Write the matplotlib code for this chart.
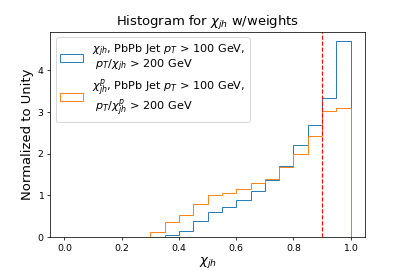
import numpy as np
from matplotlib import pyplot as plt

# bin edges and normalized bin heights
bin_edges = np.linspace(0, 1, 21)
chi_jh = [0, 0, 0, 0, 0, 0, 0, 0.04, 0.14, 0.39, 0.60, 0.72, 0.89, 1.10, 1.38, 1.70, 2.21, 2.69, 3.33, 4.69]
chi_jh_p = [0, 0, 0, 0, 0, 0.005, 0.12, 0.36, 0.54, 0.80, 1.02, 1.05, 1.15, 1.29, 1.40, 1.67, 1.98, 2.43, 3.03, 3.09]

label_1 = "$\\chi_{jh}$, PbPb Jet $p_T$ > 100 GeV,\n $p_T/\\chi_{jh}$ > 200 GeV"
label_2 = "$\\chi_{jh}^{p}$, PbPb Jet $p_T$ > 100 GeV,\n $p_T/\\chi_{jh}^{p}$ > 200 GeV"

centers = (bin_edges[:-1] + bin_edges[1:]) / 2

fig, ax = plt.subplots(figsize=(6, 4), dpi=407 / 6)
fig.subplots_adjust(left=0.123, right=0.897, top=0.882, bottom=0.125)
ax.hist(centers, bins=bin_edges, weights=chi_jh, histtype='step', label=label_1)
ax.hist(centers, bins=bin_edges, weights=chi_jh_p, histtype='step', label=label_2)
ax.axvline(0.9, color='red', linestyle='--', linewidth=1.2)

ax.set_title("Histogram for $\\chi_{jh}$ w/weights", fontsize=14)
ax.set_xlabel("$\\chi_{jh}$", fontsize=14, labelpad=2)
ax.set_ylabel("Normalized to Unity", fontsize=14)
leg = ax.legend(loc='upper left', fontsize=12, labelspacing=0.2)
for t in leg.get_texts():
    t.set_linespacing(0.95)

fig.savefig("out.png", dpi=407 / 6)
